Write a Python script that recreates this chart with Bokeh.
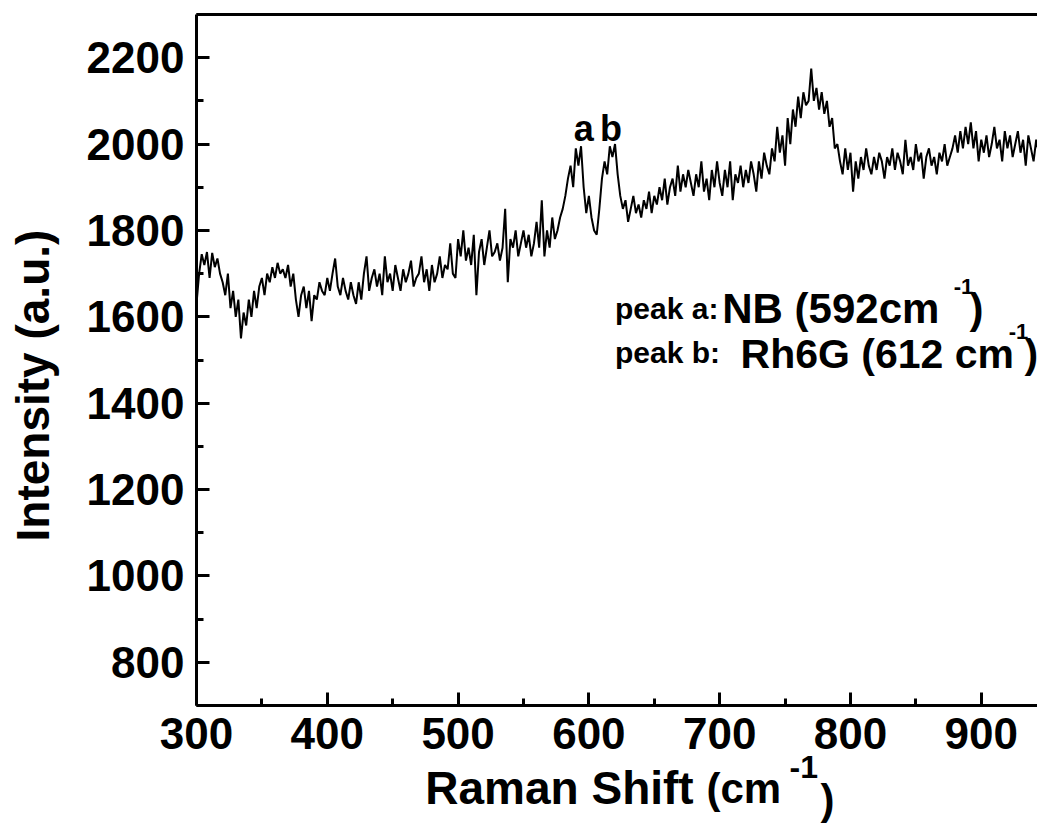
from bokeh.plotting import figure
from bokeh.models import Label, LinearAxis, FixedTicker, Range1d, Title
from bokeh.embed import file_html
from bokeh.resources import INLINE

# Raman shift sampling (cm^-1): start and step; intensities
shift_start = 300
shift_step = 2
intensity = [
    1630, 1700, 1745, 1720, 1750, 1690, 1748, 1715, 1735, 1700,   # 300-318
    1680, 1650, 1700, 1620, 1660, 1600, 1640, 1550, 1610, 1580,   # 320-338
    1640, 1600, 1660, 1620, 1670, 1690, 1650, 1700, 1680, 1715,   # 340-358
    1690, 1725, 1700, 1710, 1690, 1720, 1670, 1700, 1640, 1600,   # 360-378
    1650, 1670, 1620, 1660, 1590, 1650, 1640, 1680, 1660, 1650,   # 380-398
    1690, 1660, 1700, 1735, 1670, 1650, 1690, 1660, 1640, 1680,   # 400-418
    1650, 1630, 1680, 1640, 1700, 1740, 1660, 1690, 1710, 1670,   # 420-438
    1700, 1650, 1740, 1680, 1700, 1660, 1720, 1690, 1660, 1710,   # 440-458
    1680, 1700, 1730, 1670, 1690, 1700, 1740, 1680, 1710, 1660,   # 460-478
    1720, 1680, 1700, 1740, 1690, 1720, 1710, 1770, 1700, 1690,   # 480-498
    1780, 1740, 1800, 1730, 1760, 1720, 1790, 1650, 1750, 1780,   # 500-518
    1720, 1760, 1800, 1740, 1750, 1770, 1730, 1760, 1850, 1680,   # 520-538
    1780, 1760, 1800, 1740, 1770, 1800, 1760, 1790, 1740, 1770,   # 540-558
    1820, 1760, 1870, 1740, 1800, 1760, 1830, 1780, 1800, 1830,   # 560-578
    1850, 1880, 1920, 1950, 1900, 1990, 1950, 1995, 1900, 1840,   # 580-598
    1880, 1830, 1800, 1790, 1850, 1920, 1960, 1930, 1995, 1970,   # 600-618
    2000, 1930, 1880, 1850, 1870, 1820, 1850, 1880, 1840, 1860,   # 620-638
    1830, 1870, 1850, 1890, 1840, 1880, 1860, 1900, 1870, 1920,   # 640-658
    1860, 1900, 1920, 1880, 1950, 1890, 1930, 1900, 1940, 1910,   # 660-678
    1880, 1930, 1900, 1960, 1890, 1920, 1870, 1940, 1900, 1960,   # 680-698
    1910, 1880, 1940, 1900, 1960, 1870, 1930, 1910, 1950, 1900,   # 700-718
    1940, 1910, 1960, 1930, 1890, 1960, 1920, 1980, 1950, 1930,   # 720-738
    1990, 1960, 2040, 1980, 2020, 1950, 2060, 2000, 2080, 2040,   # 740-758
    2110, 2060, 2120, 2090, 2100, 2175, 2100, 2130, 2080, 2120,   # 760-778
    2070, 2100, 2040, 2060, 1990, 2000, 1960, 1930, 1990, 1940,   # 780-798
    1980, 1890, 1960, 1920, 1970, 1940, 1990, 1950, 1930, 1970,   # 800-818
    1940, 1980, 1960, 1920, 1970, 1950, 1990, 1940, 1980, 1960,   # 820-838
    1930, 2010, 1950, 1970, 1940, 2000, 1960, 1980, 1920, 1970,   # 840-858
    1990, 1950, 1970, 1930, 1980, 1960, 2000, 1950, 1970, 1990,   # 860-878
    2020, 1980, 2030, 1990, 2040, 2000, 2050, 1990, 2030, 1960,   # 880-898
    2010, 1980, 2020, 1970, 2000, 2040, 1990, 2010, 1960, 2030,   # 900-918
    1990, 2020, 1970, 2000, 2030, 1980, 2010, 1950, 2020, 1990,   # 920-938
    1960, 2010, 1980,                                             # 940-944
]
raman_shift = [shift_start + shift_step * i for i in range(len(intensity))]

x_major_ticks = [300, 400, 500, 600, 700, 800, 900]
x_minor_ticks = [350, 450, 550, 650, 750, 850, 950]
y_major_ticks = [800, 1000, 1200, 1400, 1600, 1800, 2000, 2200]
y_minor_ticks = [700, 900, 1100, 1300, 1500, 1700, 1900, 2100, 2300]

FONT = "Liberation Sans"
NBSP = "\u00a0"

p = figure(width=1037, height=826, output_backend="svg", toolbar_location=None,
           x_range=Range1d(300, 943), y_range=Range1d(700, 2300),
           min_border_left=196, min_border_right=0, min_border_top=14,
           min_border_bottom=121)
p.outline_line_color = None
p.grid.visible = False
p.background_fill_color = "white"
p.border_fill_color = "white"

p.xaxis.ticker = FixedTicker(ticks=x_major_ticks, minor_ticks=x_minor_ticks)
p.yaxis.ticker = FixedTicker(ticks=y_major_ticks, minor_ticks=y_minor_ticks)

for ax in (p.xaxis, p.yaxis):
    ax.axis_line_width = 3
    ax.axis_line_color = "black"
    ax.major_tick_line_width = 3
    ax.minor_tick_line_width = 3
    ax.major_tick_in = 13
    ax.major_tick_out = 0
    ax.minor_tick_in = 7
    ax.minor_tick_out = 0
    ax.major_label_text_font = FONT
    ax.major_label_text_font_style = "bold"
    ax.major_label_text_font_size = "44px"
    ax.major_label_text_color = "black"
    ax.major_label_standoff = 12
    ax.axis_label_text_font = FONT
    ax.axis_label_text_font_style = "bold"
    ax.axis_label_text_color = "black"

# trailing no-break spaces shift the centred titles as in the original
p.yaxis.axis_label = "Intensity (a.u.)" + NBSP * 4
p.yaxis.axis_label_text_font_size = "46px"
p.yaxis.axis_label_standoff = 25

p.xaxis.axis_label = "Raman Shift" + NBSP * 9
p.xaxis.axis_label_text_font_size = "46px"
p.xaxis.axis_label_standoff = 10

top_axis = LinearAxis(ticker=FixedTicker(ticks=[]), axis_line_width=3,
                      major_tick_out=0, major_tick_in=0, minor_tick_out=0,
                      minor_tick_in=0, major_label_standoff=0,
                      major_label_text_font_size="0px")
p.add_layout(top_axis, "above")

p.line(raman_shift, intensity, line_color="black", line_width=2)


def lab(text, x, y, size, align="left"):
    p.add_layout(Label(text=text, x=x, y=y, text_font=FONT,
                       text_font_style="bold", text_font_size=size,
                       text_color="black", text_align=align,
                       text_baseline="alphabetic"))


# peak markers
lab("a", 596, 2037, "36px", align="center")
lab("b", 617, 2037, "36px", align="center")

# annotation block
lab("peak a:", 620, 1620, "30px")
lab("NB (592cm", 702, 1620, "42px")
lab("-1", 879, 1670, "22px")
lab(")", 891, 1620, "42px")
lab("peak b:", 620, 1517, "30px")
lab("Rh6G (612 cm", 716, 1515, "41px")
lab("-1", 921, 1565, "22px")
lab(")", 933, 1515, "41px")


# remaining x-axis title pieces, drawn in zero-height side panels below the axis
def xtitle(text, offset, size, standoff):
    p.add_layout(Title(text=text, align="left", offset=offset,
                       vertical_align="top", standoff=standoff,
                       text_font=FONT, text_font_style="bold",
                       text_font_size=size, text_color="black"), "below")


xtitle("(cm", 510, "42px", -104)
xtitle("-1", 593, "32px", -122)
xtitle(")", 624, "42px", -82)

open("out.html", "w").write(file_html(p, INLINE))
